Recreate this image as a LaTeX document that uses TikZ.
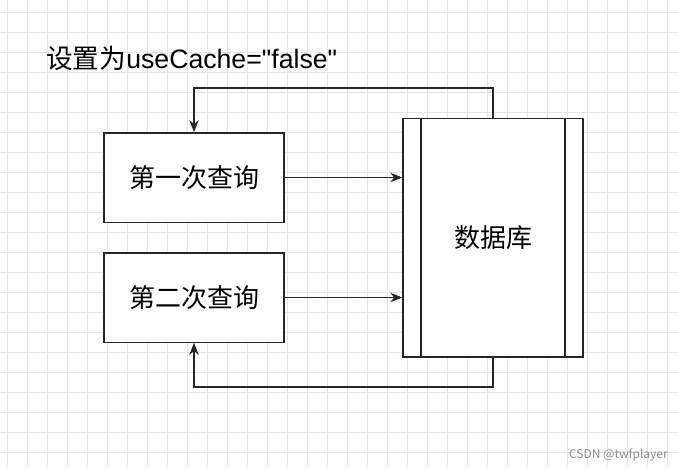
\documentclass[tikz,border=0pt]{standalone}
\usepackage{fontspec}
\setmainfont{Noto Sans CJK SC}
\newfontfamily\latf{Liberation Sans}
\usetikzlibrary{arrows.meta}
\begin{document}
\begin{tikzpicture}[x=0.75pt,y=-0.75pt,
 box/.style={draw=black!85,line width=1pt,fill=white,inner sep=0pt},
 conn/.style={draw=black!85,line width=1pt,-{Stealth[length=9pt,width=7pt]}}]
\useasboundingbox (0,0) rectangle (678,468);
\fill[white] (0,0) rectangle (678,468);
\foreach \x in {7,27,...,677} \draw[black!10,line width=0.5pt] (\x,0) -- (\x,468);
\foreach \y in {12,32,...,467} \draw[black!10,line width=0.5pt] (0,\y) -- (678,\y);
\node[anchor=west,font=\fontsize{20pt}{22pt}\selectfont,inner sep=0pt] (t) at (46,58) {设置为{\latf useCache=\char"22 false\char"22}};
\node[box,minimum width=135pt,minimum height=67pt,font=\fontsize{19.5pt}{21pt}\selectfont] (q1) at (194,177.5) {第一次查询};
\node[box,minimum width=135pt,minimum height=67pt,font=\fontsize{19.5pt}{21pt}\selectfont] (q2) at (194,297.5) {第二次查询};
\node[box,minimum width=135pt,minimum height=179pt,font=\fontsize{19.5pt}{21pt}\selectfont] (db) at (493,237.5) {数据库};
\draw[black!85,line width=1pt] ([xshift=14pt]db.north west) -- ([xshift=14pt]db.south west);
\draw[black!85,line width=1pt] ([xshift=-14pt]db.north east) -- ([xshift=-14pt]db.south east);
\draw[conn] (q1.east) -- (q1.east -| db.west);
\draw[conn] (q2.east) -- (q2.east -| db.west);
\coordinate (a1) at (493,88); \coordinate (a2) at (194,88);
\coordinate (b1) at (493,387); \coordinate (b2) at (194,387);
\draw[conn] (db.north) -- (a1) -- (a2) -- (q1.north);
\draw[conn] (db.south) -- (b1) -- (b2) -- (q2.south);
\node[anchor=south east,font=\fontsize{9pt}{10pt}\selectfont,text=black!45,inner sep=0pt] (w) at (668,462) {CSDN @twfplayer};
\end{tikzpicture}
\end{document}
